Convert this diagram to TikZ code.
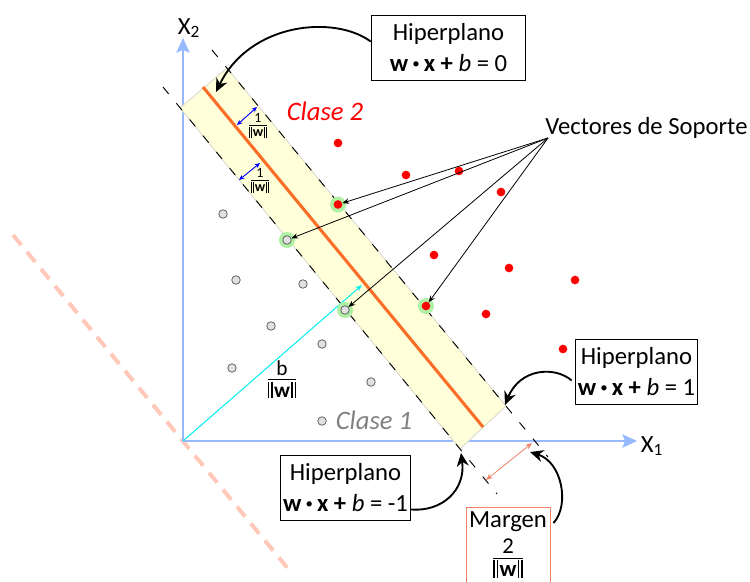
\documentclass[tikz,border=0pt]{standalone}
\usepackage{fontspec}
\setmainfont{Carlito}
\usetikzlibrary{arrows.meta,calc}
\definecolor{axisblue}{RGB}{150,185,255}
\definecolor{salmonc}{RGB}{255,200,185}
\definecolor{bandfill}{RGB}{255,255,218}
\definecolor{bandedge}{RGB}{215,215,205}
\definecolor{svgreen}{RGB}{175,240,165}
\definecolor{orangeline}{RGB}{250,110,40}
\definecolor{margincol}{RGB}{240,130,100}
\definecolor{ptgray}{RGB}{225,225,225}
\definecolor{ptedge}{RGB}{100,100,100}
\definecolor{clasegray}{RGB}{128,128,128}
\definecolor{cyanarrow}{RGB}{0,240,240}
\newcommand{\dbars}{\rule[-0.06em]{0.055em}{0.78em}\kern0.09em\rule[-0.06em]{0.055em}{0.78em}}
\newcommand{\normw}{\dbars\kern0.07em\textbf{w}\kern0.07em\dbars}
\newcommand{\wfrac}[1]{{\renewcommand{\arraystretch}{0.78}\begin{tabular}{@{}c@{}}#1\\[-0.12em]\hline\rule{0pt}{0.82em}\normw\end{tabular}}}
\newcommand{\sdot}{\,\raisebox{0.12em}{\scalebox{0.6}{\textbullet}}\,}
\begin{document}
\begin{tikzpicture}[x=0.75pt,y=-0.75pt,
  cone/.style={circle, draw=ptedge, fill=ptgray, line width=0.6pt, inner sep=0pt, minimum size=6.4pt},
  ctwo/.style={circle, fill=red, inner sep=0pt, minimum size=6.5pt},
  halo/.style={circle, fill=svgreen, inner sep=0pt, minimum size=12pt},
  hbox/.style={draw, line width=0.75pt, align=center, font=\fontsize{18.5}{23}\selectfont, minimum height=48.75pt, inner sep=2pt},
  curvearrow/.style={line width=1.4pt, -{Stealth[length=10pt,width=9pt]}},
  svarrow/.style={line width=0.6pt, -{Stealth[length=5pt,width=4pt]}},
  edgedash/.style={line width=0.7pt, dash pattern=on 6.75pt off 9pt},
  axisline/.style={axisblue, line width=1.1pt, -{Stealth[length=11pt,width=10pt,inset=2pt]}},
  wnorm/.style={blue, line width=0.7pt, {Stealth[length=4pt,width=3.5pt]}-{Stealth[length=4pt,width=3.5pt]}},
  lbl/.style={font=\fontsize{18.5}{22}\selectfont, inner sep=0pt}
]
\useasboundingbox (0,0) rectangle (750,582);

% parallel hyperplane through origin
\draw[salmonc, line width=3pt, dash pattern=on 9.75pt off 6.75pt] (13,235) -- (290,571);

% axes
\coordinate (O) at (183,441);
\coordinate (xend) at (637,441);
\coordinate (yend) at (183,38);
\draw[axisline] (O) -- (xend);
\draw[axisline] (O) -- (yend);
\node[lbl] (x1lab) at (652,446) {X\textsubscript{1}};
\node[lbl] (x2lab) at (189,28) {X\textsubscript{2}};

% band
\coordinate (b1) at (180,108);
\coordinate (b2) at (227,68);
\coordinate (b3) at (506,406);
\coordinate (b4) at (460,449);
\fill[bandfill] (b1) -- (b2) -- (b3) -- (b4) -- cycle;
\draw[bandedge, line width=0.6pt] (b1) -- (b2) -- (b3) -- (b4) -- cycle;

% dashed margin lines
\coordinate (l1a) at (163,87);
\coordinate (l1b) at (497,494);
\coordinate (l2a) at (212,50);
\coordinate (l2b) at (548,457);
\draw[edgedash] (l1a) -- (l1b);
\draw[edgedash] (l2a) -- (l2b);

% separating hyperplane
\coordinate (h0a) at (203,87);
\coordinate (h0b) at (483,427);
\draw[orangeline, line width=2.3pt] (h0a) -- (h0b);

% b / ||w|| vector
\coordinate (bt) at (362,285);
\draw[cyanarrow, line width=0.75pt, -{Stealth[length=5pt,width=4pt]}] (O) -- (bt);
\node[font=\fontsize{16}{19}\selectfont, inner sep=0pt] (blab) at (282,382) {\wfrac{b}};

% 1/||w|| arrows
\coordinate (w1a) at (237,125);
\coordinate (w1b) at (257,107);
\coordinate (w2a) at (239,180);
\coordinate (w2b) at (260,163);
\draw[wnorm] (w1a) -- (w1b);
\draw[wnorm] (w2a) -- (w2b);
\node[font=\fontsize{10.5}{12.5}\selectfont, inner sep=0pt] (f1) at (258,127) {\wfrac{1}};
\node[font=\fontsize{10.5}{12.5}\selectfont, inner sep=0pt] (f2) at (260,182) {\wfrac{1}};

% class 1 points
\foreach \p [count=\i] in {(223,214),(236,280),(303,284),(271,326),(322,344),(232,368),(371,382),(322,421)}
  \node[cone] (g\i) at \p {};
% class 2 points
\foreach \p [count=\i] in {(338,143),(406,175),(459,171),(501,192),(434,255),(509,268),(575,280),(486,314),(563,349)}
  \node[ctwo] (r\i) at \p {};

% support vectors
\node[halo] (h1) at (338,204.5) {};
\node[halo] (h2) at (287,240) {};
\node[halo] (h3) at (345,310) {};
\node[halo] (h4) at (426,306) {};
\node[ctwo] (sv1) at (338,204.5) {};
\node[cone] (sv2) at (287,240) {};
\node[cone] (sv3) at (345,310) {};
\node[ctwo] (sv4) at (426,306) {};

% support vectors label
\node[lbl, anchor=west] (vs) at (545,128) {Vectores de Soporte};
\coordinate (vsp) at (548,138);
\draw[svarrow] (vsp) -- (sv1);
\draw[svarrow] (vsp) -- (sv2);
\draw[svarrow] (vsp) -- (sv3);
\draw[svarrow] (vsp) -- (sv4);

% class labels
\node[font=\fontsize{20}{20}\selectfont\itshape, text=red, inner sep=0pt] (c2lab) at (325,111) {Clase 2};
\node[font=\fontsize{20}{20}\selectfont\itshape, text=clasegray, inner sep=0pt] (c1lab) at (374,420) {Clase 1};

% margin arrow
\coordinate (ma) at (532,443);
\coordinate (mb) at (486,480);
\draw[margincol, line width=0.6pt, {Stealth[length=5pt,width=4pt]}-{Stealth[length=5pt,width=4pt]}] (ma) -- (mb);

% hyperplane boxes
\node[hbox, minimum width=116pt] (box0) at (448.5,47.5) {Hiperplano\\\textbf{w}\sdot\textbf{x} \textbf{+} \textit{b} = 0};
\node[hbox, minimum width=92pt] (box1) at (636.5,371.5) {Hiperplano\\\textbf{w}\sdot\textbf{x} \textbf{+} \textit{b} = 1};
\node[hbox, minimum width=93.5pt] (box2) at (345.5,487.5) {Hiperplano\\\textbf{w}\sdot\textbf{x} \textbf{+} \textit{b} = -1};
\node[draw=margincol, line width=0.75pt, anchor=north, minimum width=63pt, minimum height=75pt, inner sep=0pt] (mbox) at (508,507) {};
\node[lbl, anchor=north] (mtext) at (508,511) {Margen};
\node[font=\fontsize{17}{20}\selectfont, inner sep=0pt, anchor=north] (mfrac) at (508,539) {\wfrac{2}};

% curved pointers
\coordinate (t0) at (216,92);
\coordinate (t1) at (505,405);
\coordinate (t2) at (461,453);
\coordinate (t3) at (530,452);
\draw[curvearrow] ($(box0.west)+(0,-6)$) .. controls (335,15) and (250,22) .. (t0);
\draw[curvearrow] ($(box1.west)+(-3,9)$) .. controls (555,366) and (520,368) .. (t1);
\draw[curvearrow] ($(box2.east)+(0,22)$) .. controls (442,512) and (466,490) .. (t2);
\draw[curvearrow] ($(mbox.north east)+(3,16)$) .. controls (570,505) and (562,462) .. (t3);
\end{tikzpicture}
\end{document}
